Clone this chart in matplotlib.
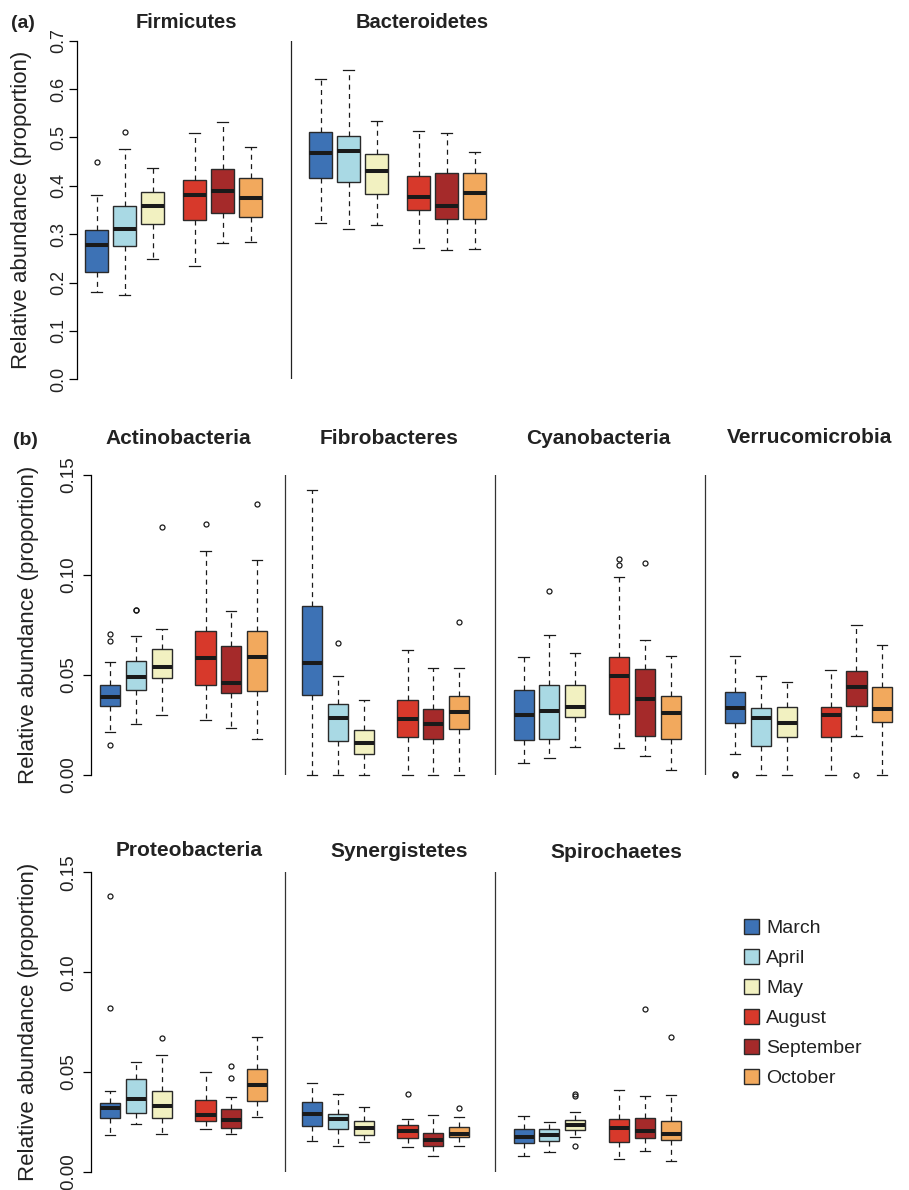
import matplotlib.pyplot as plt
from matplotlib.patches import Patch

plt.rcParams['font.family'] = ['Liberation Sans', 'DejaVu Sans']
plt.rcParams['text.color'] = '#222222'

months = ["March", "April", "May", "August", "September", "October"]
colors = ["#3D72B5", "#A9D9E4", "#F2F1C1", "#D7392B", "#A52A2A", "#F2A95D"]

# per month: (lower whisker, Q1, median, Q3, upper whisker)
firmicutes = [(0.180, 0.221, 0.278, 0.308, 0.380), (0.175, 0.276, 0.311, 0.358, 0.477),
              (0.249, 0.321, 0.358, 0.387, 0.436), (0.235, 0.329, 0.382, 0.413, 0.509),
              (0.281, 0.343, 0.389, 0.435, 0.532), (0.283, 0.335, 0.375, 0.416, 0.480)]
firmicutes_out = [[0.450], [0.511], [], [], [], []]

bacteroidetes = [(0.323, 0.417, 0.468, 0.512, 0.620), (0.311, 0.408, 0.471, 0.503, 0.640),
                 (0.320, 0.384, 0.430, 0.465, 0.534), (0.271, 0.351, 0.376, 0.420, 0.514),
                 (0.268, 0.331, 0.359, 0.427, 0.510), (0.270, 0.331, 0.385, 0.427, 0.469)]
bacteroidetes_out = [[], [], [], [], [], []]

actino = [(0.0215, 0.0342, 0.0388, 0.0447, 0.0562), (0.0255, 0.0425, 0.0488, 0.0567, 0.0693),
          (0.030, 0.0485, 0.0537, 0.063, 0.073), (0.0275, 0.0448, 0.0583, 0.072, 0.112),
          (0.0232, 0.041, 0.0458, 0.0642, 0.0817), (0.0177, 0.0418, 0.0587, 0.072, 0.1073)]
actino_out = [[0.0705, 0.0668, 0.0148], [0.0822, 0.0824], [0.1238], [0.1252], [], [0.1352]]

fibro = [(0.0, 0.0398, 0.0557, 0.0845, 0.1423), (0.0, 0.0168, 0.0282, 0.0352, 0.0495),
         (0.0, 0.0105, 0.016, 0.0222, 0.0373), (0.0, 0.0187, 0.0278, 0.0373, 0.0625),
         (0.0, 0.018, 0.0253, 0.033, 0.0533), (0.0, 0.0227, 0.0315, 0.0392, 0.0532)]
fibro_out = [[], [0.0657], [], [], [], [0.0765]]

cyano = [(0.0058, 0.0173, 0.0297, 0.0425, 0.059), (0.0082, 0.0177, 0.0318, 0.0448, 0.070),
         (0.014, 0.0287, 0.0337, 0.0448, 0.0608), (0.0133, 0.0302, 0.0492, 0.059, 0.099),
         (0.0093, 0.0193, 0.0377, 0.0528, 0.0673), (0.0022, 0.0177, 0.0307, 0.0395, 0.0595)]
cyano_out = [[], [0.0918], [], [0.1078, 0.105], [0.1057], []]

verruco = [(0.0103, 0.0258, 0.0332, 0.0415, 0.0592), (0.0, 0.0145, 0.0282, 0.0335, 0.0493),
           (0.0, 0.019, 0.0257, 0.034, 0.0463), (0.0, 0.019, 0.0297, 0.034, 0.0523),
           (0.0195, 0.0345, 0.0437, 0.052, 0.0747), (0.0, 0.0262, 0.0327, 0.044, 0.0647)]
verruco_out = [[0.0, 0.0003], [], [], [], [0.0], []]

proteo = [(0.0185, 0.0269, 0.032, 0.0344, 0.0407), (0.024, 0.0294, 0.0367, 0.0466, 0.0551),
          (0.0189, 0.0269, 0.0329, 0.0404, 0.0584), (0.0214, 0.0255, 0.0284, 0.0362, 0.0502),
          (0.0189, 0.022, 0.026, 0.0314, 0.0377), (0.0277, 0.0357, 0.0434, 0.0517, 0.0677)]
proteo_out = [[0.1382, 0.0823], [], [0.0669], [], [0.0531, 0.0472], []]

synerg = [(0.0157, 0.0232, 0.0289, 0.0349, 0.0444), (0.0132, 0.0214, 0.0264, 0.0289, 0.039),
          (0.0152, 0.0184, 0.022, 0.0255, 0.0324), (0.0127, 0.0169, 0.0205, 0.0237, 0.0267),
          (0.0082, 0.0132, 0.0159, 0.0197, 0.0285), (0.013, 0.0174, 0.019, 0.0227, 0.0277)]
synerg_out = [[], [], [], [0.039], [], [0.032]]

spiro = [(0.008, 0.0144, 0.0174, 0.0217, 0.0279), (0.0102, 0.0155, 0.0184, 0.0214, 0.025),
         (0.0175, 0.0212, 0.0234, 0.026, 0.030), (0.0067, 0.015, 0.0219, 0.0265, 0.0409),
         (0.0103, 0.0172, 0.0207, 0.0269, 0.0379), (0.0053, 0.016, 0.0189, 0.0255, 0.0385)]
spiro_out = [[], [], [0.0382, 0.0389, 0.013], [], [0.0814], [0.0674]]

W, H = 909, 1190
fig = plt.figure(figsize=(W / 100, H / 100), dpi=100)


def px_axes(left, top, right, bottom):
    return fig.add_axes([left / W, 1 - bottom / H, (right - left) / W, (bottom - top) / H])


def draw_group(ax, base, offsets, stats, fliers, width, capw):
    bstats = []
    for (lo, q1, med, q3, hi), fl in zip(stats, fliers):
        bstats.append(dict(whislo=lo, q1=q1, med=med, q3=q3, whishi=hi, fliers=fl))
    res = ax.bxp(bstats, positions=[base + o for o in offsets], widths=width, capwidths=capw,
                 patch_artist=True, manage_ticks=False,
                 boxprops=dict(edgecolor="#2a2a2a", linewidth=1.0),
                 medianprops=dict(color="#1a1a1a", linewidth=2.9, solid_capstyle="butt"),
                 whiskerprops=dict(color="#1a1a1a", linewidth=0.9, linestyle=(0, (4, 3.5))),
                 capprops=dict(color="#1a1a1a", linewidth=0.9),
                 flierprops=dict(marker="o", markerfacecolor="none", markeredgecolor="#1a1a1a",
                                 markersize=3.6, markeredgewidth=0.9))
    for patch, c in zip(res["boxes"], colors):
        patch.set_facecolor(c)
    for key in res:
        for art in res[key]:
            art.set_clip_on(False)


def setup(ax, ymax, ticks, labels, size, pad):
    ax.set_ylim(0, ymax)
    ax.set_yticks(ticks)
    ax.set_yticklabels(labels, rotation=90, va="center", fontsize=size, color="#222222")
    ax.set_xticks([])
    for s in ["top", "right", "bottom"]:
        ax.spines[s].set_visible(False)
    ax.spines["left"].set_linewidth(0.9)
    ax.tick_params(axis="y", length=5.5, width=0.9, pad=pad)
    ax.patch.set_alpha(0)


def title(x, y, text, size=15):
    fig.text(x / W, 1 - y / H, text, ha="center", va="baseline", fontsize=size,
             fontweight="bold")


def ylabel(x, y):
    fig.text(x / W, 1 - y / H, "Relative abundance (proportion)", rotation=90,
             ha="center", va="center", fontsize=16)


# panel (a)
ax_a = px_axes(77, 40.7, 553, 379.3)
ax_a.set_xlim(0.3, 17.3)
setup(ax_a, 0.7, [0, 0.1, 0.2, 0.3, 0.4, 0.5, 0.6, 0.7],
      ["0.0", "0.1", "0.2", "0.3", "0.4", "0.5", "0.6", "0.7"], 13, 1.8)
offs_a = [0, 1, 2, 3.5, 4.5, 5.5]
draw_group(ax_a, 1, offs_a, firmicutes, firmicutes_out, 0.81, 0.38)
draw_group(ax_a, 9, offs_a, bacteroidetes, bacteroidetes_out, 0.81, 0.38)
ax_a.axvline(7.93, color="#222222", linewidth=0.9)
title(186.7, 27.5, "Firmicutes", 14.5)
title(422.3, 27.5, "Bacteroidetes", 14.5)
fig.text(22.7 / W, 1 - 27.5 / H, "(a)", ha="center", va="baseline", fontsize=14,
         fontweight="bold")
ylabel(21.6, 210)

# panel (b)
offs_b = [0, 1, 2, 3.7, 4.7, 5.7]
bases = [1, 8.83, 17.03, 25.23]
dividers = [7.78, 15.92, 24.07]
xmax_b = 0.25 + (909 - 90.7) / 25.8
ticks_b = [0, 0.05, 0.10, 0.15]
labels_b = ["0.00", "0.05", "0.10", "0.15"]

ax_b1 = px_axes(90.7, 474.7, 909, 774.7)
ax_b1.set_xlim(0.25, xmax_b)
setup(ax_b1, 0.15, ticks_b, labels_b, 13.5, 4.0)
for base, st, fl in zip(bases, [actino, fibro, cyano, verruco],
                        [actino_out, fibro_out, cyano_out, verruco_out]):
    draw_group(ax_b1, base, offs_b, st, fl, 0.78, 0.4)
for d in dividers:
    ax_b1.axvline(d, color="#333333", linewidth=0.9)
title(178.3, 444.5, "Actinobacteria")
title(389.2, 444.5, "Fibrobacteres")
title(598.7, 444.5, "Cyanobacteria")
title(810, 442.7, "Verrucomicrobia")
fig.text(25 / W, 1 - 445 / H, "(b)", ha="center", va="baseline", fontsize=14,
         fontweight="bold")
ylabel(29, 624.7)

ax_b2 = px_axes(90.7, 872.3, 909, 1172)
ax_b2.set_xlim(0.25, xmax_b)
setup(ax_b2, 0.15, ticks_b, labels_b, 13.5, 4.0)
for base, st, fl in zip(bases[:3], [proteo, synerg, spiro], [proteo_out, synerg_out, spiro_out]):
    draw_group(ax_b2, base, offs_b, st, fl, 0.78, 0.4)
for d in dividers[:2]:
    ax_b2.axvline(d, color="#333333", linewidth=0.9)
title(189.2, 856, "Proteobacteria")
title(398.8, 856.7, "Synergistetes")
title(616.2, 858.5, "Spirochaetes")
ylabel(29, 1022)

handles = [Patch(facecolor=c, edgecolor="#2a2a2a", linewidth=1.0) for c in colors]
fig.legend(handles, months, loc="upper left", bbox_to_anchor=(744 / W, 1 - 919 / H),
           frameon=False, fontsize=14, handlelength=0.75, handleheight=0.8,
           handletextpad=0.4, labelspacing=0.61, borderpad=0, borderaxespad=0)

fig.savefig("out.png", dpi=100)
